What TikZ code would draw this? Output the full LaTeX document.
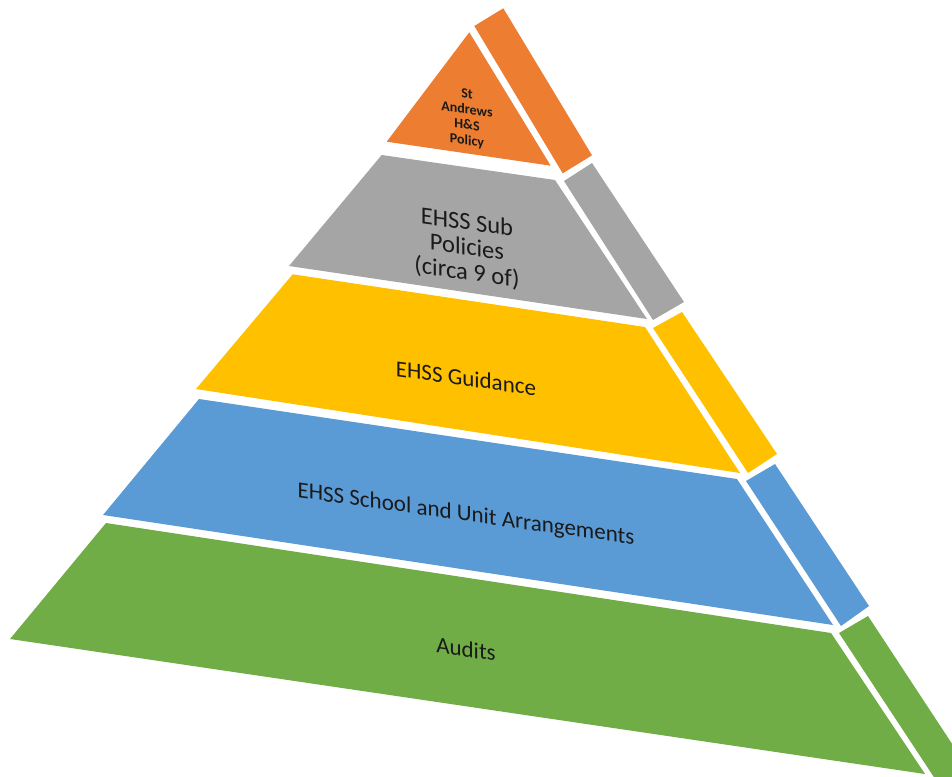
\documentclass[tikz,border=0pt]{standalone}
\usepackage{fontspec}
\setmainfont{Carlito}
\definecolor{cOrange}{HTML}{ED7D31}
\definecolor{cGray}{HTML}{A5A5A5}
\definecolor{cYellow}{HTML}{FFC000}
\definecolor{cBlue}{HTML}{5B9BD5}
\definecolor{cGreen}{HTML}{70AD47}
\definecolor{cText}{HTML}{1A1A1A}
\tikzset{
  face/.style={fill=#1, draw=none},
  lbl/.style={anchor=base, align=center, inner sep=0pt, text=cText,
              yslant=-0.14, font=\fontsize{23}{27}\selectfont},
}
\begin{document}
\begin{tikzpicture}[x=1pt, y=-1pt]
\useasboundingbox (0,0) rectangle (952,776);
\begin{scope}
\clip (0,0) rectangle (952,776);
% orange tier
\fill[face=cOrange] (469.3,32.3) -- (386.7,141.7) -- (550.7,165.7) -- cycle;
\fill[face=cOrange] (474.3,26) -- (503.3,8.3) -- (592,155.3) -- (562.7,173.3) -- cycle;
% gray tier
\fill[face=cGray] (381.7,155) -- (555,180) -- (647,319) -- (289,266) -- cycle;
\fill[face=cGray] (564,181) -- (592,163) -- (684,302) -- (653,320) -- cycle;
% yellow tier
\fill[face=cYellow] (292.7,274.3) -- (645,327) -- (740,473) -- (196,389) -- cycle;
\fill[face=cYellow] (653,328) -- (682,312) -- (777,454) -- (748,473) -- cycle;
% blue tier
\fill[face=cBlue] (199,399) -- (737,479) -- (833,625) -- (103,515) -- cycle;
\fill[face=cBlue] (746,481) -- (775,464) -- (869,606) -- (841,626) -- cycle;
% green tier
\fill[face=cGreen] (106,523) -- (831,633) -- (925,774) -- (10,639) -- cycle;
\fill[face=cGreen] (839,633) -- (868,616) -- (989,800) -- (949,800) -- cycle;
\end{scope}
% labels (anchor = baseline of the last line)
\node[lbl, font=\bfseries\fontsize{14}{15.5}\selectfont] (tOrange) at (467,145)
  {St\\Andrews\\H\&S\\Policy};
\node[lbl, font=\fontsize{24.5}{25}\selectfont] (tGray) at (467,280)
  {EHSS Sub\\Policies\\(circa 9 of)};
\node[lbl] (tYellow) at (466,386) {EHSS Guidance};
\node[lbl] (tBlue) at (466,521) {EHSS School and Unit Arrangements};
\node[lbl] (tGreen) at (466,657) {Audits};
\end{tikzpicture}
\end{document}
